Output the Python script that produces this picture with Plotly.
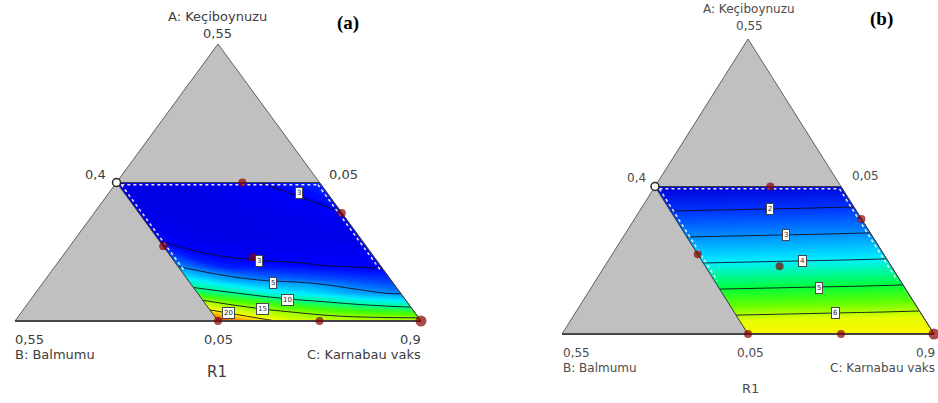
import numpy as np
import plotly.graph_objects as go

# ---------------- data ----------------
# Component bounds (real proportions) of the display triangle
A_MIN, B_MIN, C_MIN, SPAN = 0.05, 0.05, 0.40, 0.50

# Panel (a): R1 response read on a lattice of Keçiboynuzu (rows) x Balmumu (columns)
RA_A = [0.05, 0.075, 0.10, 0.125, 0.15, 0.20, 0.25, 0.30]
RA_B = [0.05, 0.10, 0.15, 0.20, 0.25, 0.30]
RA_Z = [
    [16.5, 16.5, 16.8, 18.0, 21.5, 26.0],
    [10.0, 10.8, 11.9, 13.3, 15.0, 18.5],
    [4.8, 5.4, 6.9, 8.1, 10.0, 11.5],
    [3.75, 4.0, 4.3, 4.65, 5.6, 7.9],
    [2.85, 2.95, 3.1, 3.25, 3.47, 4.83],
    [2.5, 2.3, 2.3, 2.2, 2.4, 2.8],
    [3.05, 2.6, 2.4, 2.1, 2.1, 2.3],
    [3.6, 3.2, 2.8, 2.4, 2.3, 2.3],
]
RA_LEVELS = [3, 5, 10, 15, 20]
RA_LABEL_LEVEL = [3, 3, 5, 10, 15, 20]
RA_LABEL_A = [0.281, 0.158, 0.118, 0.088, 0.072, 0.064]
RA_LABEL_B = [0.085, 0.196, 0.198, 0.196, 0.234, 0.280]

# Panel (b): R1 response on the same kind of lattice
RB_A = [0.05, 0.10, 0.15, 0.20, 0.25, 0.30]
RB_B = [0.05, 0.10, 0.15, 0.20, 0.25, 0.30]
RB_Z = [
    [6.89, 6.85, 6.82, 6.79, 6.76, 6.73],
    [5.75, 5.71, 5.68, 5.65, 5.62, 5.59],
    [4.62, 4.58, 4.55, 4.52, 4.49, 4.46],
    [3.49, 3.45, 3.42, 3.39, 3.36, 3.33],
    [2.35, 2.31, 2.28, 2.25, 2.22, 2.19],
    [1.22, 1.18, 1.15, 1.12, 1.09, 1.06],
]
RB_LEVELS = [2, 3, 4, 5, 6]
RB_LABEL_LEVEL = [2, 3, 4, 5, 6]
RB_LABEL_A = [0.262, 0.218, 0.174, 0.128, 0.086]
RB_LABEL_B = [0.165, 0.165, 0.165, 0.165, 0.165]

# Constrained design region
REGION_A = [0.05, 0.30]
REGION_B = [0.05, 0.30]

# Design points (A, B; C = 1 - A - B) and replicate count
DESIGN_A = [0.30, 0.245, 0.185, 0.165, 0.05, 0.05, 0.05]
DESIGN_B = [0.145, 0.05, 0.30, 0.20, 0.30, 0.175, 0.05]
DESIGN_REPS = [1, 1, 1, 1, 1, 1, 2]
VERTEX_A, VERTEX_B = [0.30], [0.30]

# ---------------- geometry helpers ----------------
def tern_xy(A, B):
    A = np.asarray(A, dtype=float)
    B = np.asarray(B, dtype=float)
    a = (A - A_MIN) / SPAN
    b = (B - B_MIN) / SPAN
    return 1.0 - b - a / 2.0, a

W, H = 938, 403
# pixel placement of each triangle: left, width, base line, height
PANELS = {
    "a": dict(left=15, width=406, base=321, height=277, dom=[0.0, 0.5], xa="x", ya="y"),
    "b": dict(left=562, width=372, base=334, height=295, dom=[0.5, 1.0], xa="x2", ya="y2"),
}

BLUE_YELLOW_A = [
    [0.0, "rgb(0,0,225)"], [0.04, "rgb(0,0,255)"], [0.0625, "rgb(0,40,255)"],
    [0.125, "rgb(0,150,255)"], [0.23, "rgb(0,240,255)"], [0.333, "rgb(0,255,150)"],
    [0.46, "rgb(70,255,0)"], [0.54, "rgb(150,255,0)"], [0.75, "rgb(255,255,0)"],
    [0.875, "rgb(255,150,0)"], [1.0, "rgb(230,40,0)"],
]
BLUE_YELLOW_B = [
    [0.0, "rgb(0,0,215)"], [0.161, "rgb(0,50,255)"], [0.333, "rgb(0,140,255)"],
    [0.504, "rgb(0,240,255)"], [0.676, "rgb(0,255,60)"], [0.79, "rgb(100,255,0)"],
    [0.89, "rgb(230,255,0)"], [1.0, "rgb(255,245,0)"],
]

fig = go.Figure()
shapes, annotations = [], []
layout_axes = {}


def add_panel(key, gA, gB, gZ, levels, lab_lv, lab_A, lab_B, cscale, fine):
    p = PANELS[key]
    xa, ya = p["xa"], p["ya"]
    # axis ranges so that triangle lands on its pixel box
    d0, d1 = p["dom"]
    x0 = (d0 * W - p["left"]) / p["width"]
    x1 = (d1 * W - p["left"]) / p["width"]
    y0 = (p["base"] - H) / p["height"]
    y1 = p["base"] / p["height"]
    axname = "xaxis" if xa == "x" else "xaxis2"
    ayname = "yaxis" if ya == "y" else "yaxis2"
    layout_axes[axname] = dict(domain=[d0, d1], range=[x0, x1], visible=False, fixedrange=True,
                               anchor=ya)
    layout_axes[ayname] = dict(domain=[0, 1], range=[y0, y1], visible=False, fixedrange=True,
                               anchor=xa)

    # gray simplex
    tx, ty = tern_xy([0.55, 0.05, 0.05], [0.05, 0.55, 0.05])
    path = "M {} {} L {} {} L {} {} Z".format(tx[0], ty[0], tx[1], ty[1], tx[2], ty[2])
    shapes.append(dict(type="path", path=path, xref=xa, yref=ya, layer="below",
                       fillcolor="rgb(192,192,192)", line=dict(width=0)))

    # carpet over the A-B lattice
    AA, BB = np.meshgrid(np.asarray(gA), np.asarray(gB), indexing="ij")
    cx, cy = tern_xy(AA, BB)
    cid = "carpet_" + key
    hid = dict(showgrid=False, showline=False, showticklabels="none", startline=False,
               endline=False, minorgridcount=0, gridwidth=0, linewidth=0)
    fig.add_trace(go.Carpet(a=gB, b=gA, x=cx.tolist(), y=cy.tolist(), carpet=cid,
                            aaxis=hid, baxis=hid, color="rgba(0,0,0,0)",
                            xaxis=xa, yaxis=ya))
    z = np.asarray(gZ, dtype=float)
    zmin, zmax = float(z.min()), float(z.max())
    fig.add_trace(go.Contourcarpet(
        a=gB, b=gA, z=gZ, carpet=cid, autocontour=False,
        contours=dict(start=zmin - fine, end=zmax + fine, size=fine,
                      coloring="fill", showlines=False),
        colorscale=cscale, zmin=zmin, zmax=zmax, zauto=False, showscale=False,
        line=dict(width=0, smoothing=1.3), xaxis=xa, yaxis=ya))
    for lv in levels:
        fig.add_trace(go.Contourcarpet(
            a=gB, b=gA, z=gZ, carpet=cid, autocontour=False,
            contours=dict(start=lv, end=lv, size=1, coloring="none", showlines=True),
            line=dict(color="rgb(15,15,30)", width=0.9, smoothing=1.3),
            showscale=False, xaxis=xa, yaxis=ya))

    # triangle outline and base
    ox, oy = tern_xy([0.55, 0.05, 0.05, 0.55], [0.05, 0.55, 0.05, 0.05])
    fig.add_trace(go.Scatter(x=ox, y=oy, mode="lines", line=dict(color="rgb(95,95,95)", width=1),
                             xaxis=xa, yaxis=ya, hoverinfo="skip", cliponaxis=False))
    bx, by = tern_xy([0.05, 0.05], [0.55, 0.05])
    fig.add_trace(go.Scatter(x=bx, y=by, mode="lines", line=dict(color="rgb(70,70,70)", width=2),
                             xaxis=xa, yaxis=ya, hoverinfo="skip", cliponaxis=False))
    # region outline
    rA = [REGION_A[1], REGION_A[1], REGION_A[0], REGION_A[0], REGION_A[1]]
    rB = [REGION_B[1], REGION_B[0], REGION_B[0], REGION_B[1], REGION_B[1]]
    px_, py_ = tern_xy(rA, rB)
    fig.add_trace(go.Scatter(x=px_, y=py_, mode="lines", line=dict(color="rgb(60,60,70)", width=1),
                             xaxis=xa, yaxis=ya, hoverinfo="skip", cliponaxis=False))
    # white dotted boundary ticks just inside the upper edges
    inset = 0.004
    top = REGION_A[1] - inset
    for dA, dB in (([top, top], [REGION_B[1] - inset, REGION_B[0] + inset]),
                   ([top, 0.14], [REGION_B[1] - inset, REGION_B[1] - inset]),
                   ([top, 0.14], [REGION_B[0] + inset, REGION_B[0] + inset])):
        wx, wy = tern_xy(dA, dB)
        fig.add_trace(go.Scatter(x=wx, y=wy, mode="lines",
                                 line=dict(color="rgba(255,255,255,0.9)", width=1.5, dash="dot"),
                                 xaxis=xa, yaxis=ya, hoverinfo="skip"))

    # design points
    dx, dy = tern_xy(DESIGN_A, DESIGN_B)
    fig.add_trace(go.Scatter(x=dx, y=dy, mode="markers",
                             marker=dict(color="rgb(135,0,0)",
                                         size=[8 + 3 * (r - 1) for r in DESIGN_REPS],
                                         line=dict(width=0)),
                             xaxis=xa, yaxis=ya, hoverinfo="skip", cliponaxis=False))
    vx, vy = tern_xy(VERTEX_A, VERTEX_B)
    fig.add_trace(go.Scatter(x=vx, y=vy, mode="markers",
                             marker=dict(color="white", size=8,
                                         line=dict(width=1.5, color="rgb(40,40,40)")),
                             xaxis=xa, yaxis=ya, hoverinfo="skip", cliponaxis=False))

    # contour value boxes
    lx, ly = tern_xy(lab_A, lab_B)
    for lv, xx, yy in zip(lab_lv, lx, ly):
        annotations.append(dict(x=float(xx), y=float(yy), xref=xa, yref=ya, text=str(lv),
                                showarrow=False, bgcolor="white", bordercolor="rgb(70,70,70)",
                                borderwidth=1, borderpad=1,
                                font=dict(family="DejaVu Sans", size=7, color="rgb(40,40,40)")))


add_panel("a", RA_A, RA_B, RA_Z, RA_LEVELS, RA_LABEL_LEVEL, RA_LABEL_A, RA_LABEL_B,
          BLUE_YELLOW_A, 0.2)
add_panel("b", RB_A, RB_B, RB_Z, RB_LEVELS, RB_LABEL_LEVEL, RB_LABEL_A, RB_LABEL_B,
          BLUE_YELLOW_B, 0.05)


def text(px, py, s, anchor="center", size=12, color="rgb(60,60,60)", family="DejaVu Sans"):
    annotations.append(dict(x=px / W, y=1 - py / H, xref="paper", yref="paper", text=s,
                            showarrow=False, xanchor=anchor, yanchor="middle",
                            font=dict(family=family, size=size, color=color)))


# panel (a) labels
text(217, 17, "A: Keçiboynuzu", size=13)
text(217, 33, "0,55", size=13)
text(348, 23, "<b>(a)</b>", size=19, color="black", family="Liberation Serif")
text(95, 174, "0,4", size=13)
text(343, 174, "0,05", size=13)
text(13, 339, "0,55", "left", size=13)
text(13, 354, "B: Balmumu", "left", size=13)
text(218, 339, "0,05", size=13)
text(423, 339, "0,9", "right", size=13)
text(423, 354, "C: Karnabau vaks", "right", size=13)
text(217, 372, "R1", size=15)

# panel (b) labels
gb = "rgb(75,75,75)"
text(749, 9, "A: Keçiboynuzu", size=12, color=gb)
text(749, 26, "0,55", size=12, color=gb)
text(881, 19, "<b>(b)</b>", size=19, color="black", family="Liberation Serif")
text(636, 178, "0,4", size=12, color=gb)
text(865, 176, "0,05", size=12, color=gb)
text(561, 353, "0,55", "left", size=12, color=gb)
text(561, 368, "B: Balmumu", "left", size=12, color=gb)
text(750, 353, "0,05", size=12, color=gb)
text(937, 353, "0,9", "right", size=12, color=gb)
text(937, 368, "C: Karnabau vaks", "right", size=12, color=gb)
text(750, 388, "R1", size=13, color=gb)

fig.update_layout(
    width=W, height=H, margin=dict(l=0, r=0, t=0, b=0),
    paper_bgcolor="white", plot_bgcolor="white", showlegend=False,
    shapes=shapes, annotations=annotations, **layout_axes,
)

fig.write_html("out.html")
